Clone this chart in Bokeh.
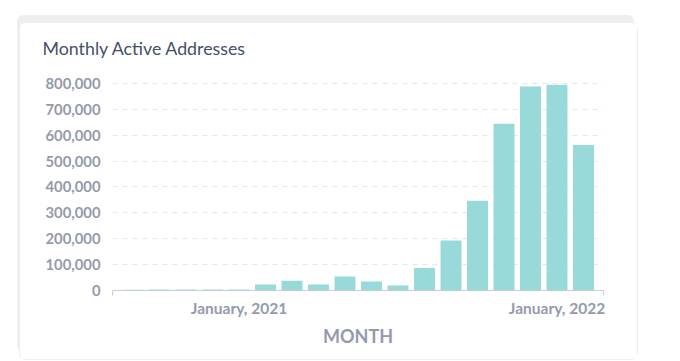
from bokeh.plotting import figure
from bokeh.models import ColumnDataSource, FixedTicker, NumeralTickFormatter, Range1d
from bokeh.embed import file_html
from bokeh.resources import INLINE

months = ["September, 2020", "October, 2020", "November, 2020", "December, 2020",
          "January, 2021", "February, 2021", "March, 2021", "April, 2021",
          "May, 2021", "June, 2021", "July, 2021", "August, 2021",
          "September, 2021", "October, 2021", "November, 2021", "December, 2021",
          "January, 2022", "February, 2022"]
active_addresses = [3000, 3500, 3500, 4000, 4000, 23000, 38000, 23000, 54000,
                    35000, 19000, 87000, 193000, 347000, 644000, 788000, 795000, 562000]
y_ticks = [0, 100000, 200000, 300000, 400000, 500000, 600000, 700000, 800000]

idx = list(range(len(months)))
src = ColumnDataSource(dict(x=idx, month=months, value=active_addresses))

# card placement on the page
CX, CY = 20, 23
W, H = 617, 336
FL, FR, FT, FB = 112 - CX, 603 - CX, 70 - CY, 290 - CY
p = figure(width=W, height=H, output_backend="svg", toolbar_location=None,
           x_range=Range1d(-0.774, len(months) - 1 + 0.755),
           y_range=Range1d(0, 850000),
           min_border_left=FL, min_border_right=W - FR,
           min_border_top=FT, min_border_bottom=H - FB)
p.margin = (CY, 0, 0, CX)
p.styles = {"border-radius": "6px", "box-shadow": "0 0 0 1px #eceef1, -3px -8px 0 0 #eeeff1"}
p.outline_line_color = None
p.background_fill_color = "white"
p.border_fill_color = "white"

p.vbar(x="x", top="value", width=0.79, source=src, color="#98d9d9", line_color=None)

p.title.text = "Monthly Active Addresses"
p.title.text_font = "Lato"
p.title.text_font_size = "17.8px"
p.title.text_font_style = "normal"
p.title.text_color = "#454f68"
p.title.align = "left"
p.title.offset = -70
p.title.standoff = 23

jan_ticks = [i for i, m in enumerate(months) if m.startswith("January")]
xa = p.xaxis[0]
xa.ticker = FixedTicker(ticks=jan_ticks, minor_ticks=[-0.774, len(months) - 1 + 0.755])
xa.major_label_overrides = {i: months[i] for i in jan_ticks}
xa.major_tick_out = 0
xa.major_tick_in = 0
xa.minor_tick_out = 5
xa.minor_tick_in = 0
xa.minor_tick_line_color = "#c9ced6"
xa.axis_line_color = "#c9ced6"
xa.major_label_text_font = "Lato"
xa.major_label_text_font_style = "bold"
xa.major_label_text_font_size = "15.5px"
xa.major_label_text_color = "#949aab"
xa.major_label_standoff = 3
xa.axis_label = "MONTH"
xa.axis_label_text_font = "Lato"
xa.axis_label_text_font_style = "bold"
xa.axis_label_text_font_size = "18px"
xa.axis_label_text_color = "#949aab"
xa.axis_label_standoff = 5

ya = p.yaxis[0]
ya.ticker = FixedTicker(ticks=y_ticks)
ya.formatter = NumeralTickFormatter(format="0,0")
ya.axis_line_color = None
ya.major_tick_line_color = None
ya.minor_tick_line_color = None
ya.major_label_text_font = "Lato"
ya.major_label_text_font_style = "bold"
ya.major_label_text_font_size = "14.8px"
ya.major_label_text_color = "#949aab"
ya.major_label_standoff = 6

p.xgrid.grid_line_color = None
p.ygrid.grid_line_color = "#e3e6ea"
p.ygrid.grid_line_dash = "5 5"

open("out.html", "w").write(file_html(p, INLINE))
